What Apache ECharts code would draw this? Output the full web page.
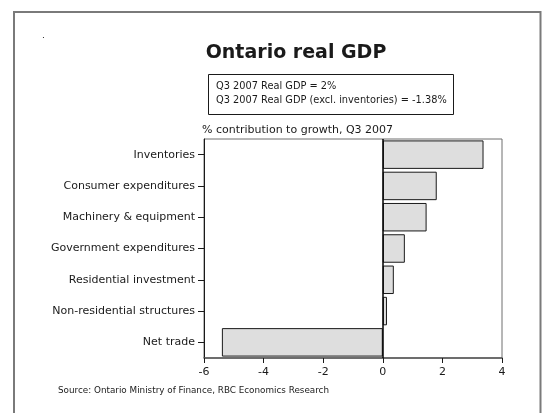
<!DOCTYPE html>
<html>
<head>
<meta charset="utf-8">
<script src="https://cdn.jsdelivr.net/npm/echarts@6/dist/echarts.min.js"></script>
<style>
  html, body { margin: 0; padding: 0; background: #fff; }
  #chart { width: 543px; height: 413px; }
</style>
</head>
<body>
<div id="chart"></div>
<script>
// Components of Ontario real GDP growth, Q3 2007 (% contribution)
const categories = [
  'Inventories',
  'Consumer expenditures',
  'Machinery & equipment',
  'Government expenditures',
  'Residential investment',
  'Non-residential structures',
  'Net trade'
];
const contributions = [3.38, 1.81, 1.47, 0.74, 0.37, 0.14, -5.40];
const xTicks = { min: -6, max: 4, step: 2 };
const noteLines = [
  'Q3 2007 Real GDP = 2%',
  'Q3 2007 Real GDP (excl. inventories) = -1.38%'
];

const font = 'DejaVu Sans';
const ink = '#1a1a1a';

const chart = echarts.init(document.getElementById('chart'), null, { renderer: 'canvas' });

chart.setOption({
  backgroundColor: '#fff',
  animation: false,
  textStyle: { fontFamily: font, color: ink },
  title: [
    {
      text: 'Ontario real GDP',
      left: 296, top: 44, padding: 0, textAlign: 'center',
      textStyle: { fontFamily: font, fontSize: 19, fontWeight: 'bold', color: ink }
    },
    {
      text: '% contribution to growth, Q3 2007',
      left: 202, top: 125, padding: 0,
      textStyle: { fontFamily: font, fontSize: 11, fontWeight: 'normal', color: ink }
    },
    {
      text: 'Source: Ontario Ministry of Finance, RBC Economics Research',
      left: 58, top: 386, padding: 0,
      textStyle: { fontFamily: font, fontSize: 8.8, fontWeight: 'normal', color: ink }
    }
  ],
  graphic: [
    // outer page frame
    {
      type: 'polyline', silent: true,
      shape: { points: [[14, 420], [14, 12], [540.5, 12], [540.5, 420]] },
      style: { stroke: '#7a7a7a', lineWidth: 2, fill: null }
    },
    {
      type: 'text', left: 42, top: 31,
      style: { text: '.', fontFamily: font, fontSize: 9, fill: ink }
    },
    // note box
    {
      type: 'rect', silent: true,
      shape: { x: 208.5, y: 74.5, width: 245, height: 40 },
      style: { stroke: ink, lineWidth: 1, fill: '#fff' }
    },
    {
      type: 'text', left: 216, top: 80,
      style: {
        text: noteLines.join('\n'),
        fontFamily: font, fontSize: 9.8, lineHeight: 13.5, fill: ink
      }
    }
  ],
  grid: {
    left: 204, right: 41, top: 139, bottom: 55,
    show: true, borderColor: '#6e6e6e', borderWidth: 1, backgroundColor: 'transparent'
  },
  xAxis: {
    type: 'value',
    min: xTicks.min, max: xTicks.max, interval: xTicks.step,
    axisLine: { show: true, onZero: false, lineStyle: { color: '#555', width: 1.5 } },
    axisTick: { show: true, inside: false, length: 5, lineStyle: { color: ink } },
    axisLabel: { fontFamily: font, fontSize: 11, color: ink, margin: 9 },
    splitLine: { show: false }
  },
  yAxis: {
    type: 'category',
    data: categories,
    inverse: true,
    axisLine: { show: true, onZero: false, lineStyle: { color: ink, width: 1 } },
    axisTick: { show: true, alignWithLabel: true, length: 6, lineStyle: { color: ink } },
    axisLabel: { fontFamily: font, fontSize: 11, color: ink, margin: 9 },
    splitLine: { show: false }
  },
  series: [{
    type: 'bar',
    data: contributions,
    barCategoryGap: '9%',
    itemStyle: { color: '#dedede', borderColor: ink, borderWidth: 1 },
    markLine: {
      silent: true, symbol: 'none', label: { show: false },
      lineStyle: { color: '#000', width: 1.5, type: 'solid' },
      data: [{ xAxis: 0 }]
    }
  }]
});
</script>
</body>
</html>
